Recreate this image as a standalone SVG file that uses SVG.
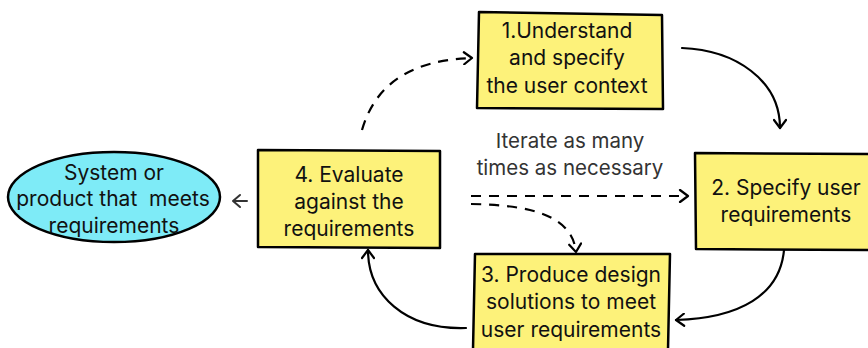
<svg xmlns="http://www.w3.org/2000/svg" width="868" height="348" viewBox="0 0 868 348">
  <defs>
    <marker id="chev" viewBox="0 0 12 14" refX="10" refY="7" markerWidth="12" markerHeight="14" markerUnits="userSpaceOnUse" orient="auto">
      <path d="M2,1 L10,7 L2,13" fill="none" stroke="#000" stroke-width="2.2" stroke-linecap="round" stroke-linejoin="round"/>
    </marker>
  </defs>
  <style>
    .box { fill: #fdf27a; stroke: #000; stroke-width: 2.5; stroke-linejoin: round; }
    .oval { fill: #7eebf7; stroke: #000; stroke-width: 2.5; }
    .lbl { font-family: Inter, "Noto Sans", sans-serif; font-size: 21px; fill: #111; text-anchor: middle; }
    .note { font-family: Inter, "Noto Sans", sans-serif; font-size: 20.5px; fill: #333; text-anchor: middle; }
    .solid { fill: none; stroke: #000; stroke-width: 2.2; stroke-linecap: round; marker-end: url(#chev); }
    .dash { fill: none; stroke: #000; stroke-width: 2.2; stroke-dasharray: 10 8; marker-end: url(#chev); }
  </style>

  <!-- step boxes -->
  <g id="understand">
    <path class="box" d="M479,12 L662,15 L663,109 L477,108 Z"/>
    <text class="lbl" x="567" y="38">1.Understand</text>
    <text class="lbl" x="567" y="65">and specify</text>
    <text class="lbl" x="567" y="93">the user context</text>
  </g>

  <g id="specify">
    <path class="box" d="M695,153 L870,154 L870,250 L696,249 Z"/>
    <text class="lbl" x="786" y="195">2. Specify user</text>
    <text class="lbl" x="786" y="222">requirements</text>
  </g>

  <g id="produce">
    <path class="box" d="M475,254 L670,254 L668,350 L473,350 Z"/>
    <text class="lbl" x="571" y="282">3. Produce design</text>
    <text class="lbl" x="571" y="309">solutions to meet</text>
    <text class="lbl" x="571" y="337">user requirements</text>
  </g>

  <g id="evaluate">
    <path class="box" d="M258,150 L440,151 L440,248 L258,247 Z"/>
    <text class="lbl" x="349" y="182">4. Evaluate</text>
    <text class="lbl" x="349" y="209">against the</text>
    <text class="lbl" x="349" y="236">requirements</text>
  </g>

  <g id="outcome">
    <ellipse class="oval" cx="114" cy="197" rx="106" ry="45"/>
    <text class="lbl" x="114" y="180">System or</text>
    <text class="lbl" x="113" y="206" xml:space="preserve">product that  meets</text>
    <text class="lbl" x="114" y="233">requirements</text>
  </g>

  <g id="iterate-note">
    <text class="note" x="570" y="148">Iterate as many</text>
    <text class="note" x="570" y="175">times as necessary</text>
  </g>

  <!-- connectors -->
  <g id="connectors">
    <path class="solid" d="M682,48 C735,50 780,80 780,128"/>
    <path class="solid" d="M784,250 C780,295 740,318 676,320"/>
    <path class="solid" d="M466,328 C405,330 368,295 368,250"/>
    <path d="M247,201 L233,201 M240,195 L233,201 L240,207" fill="none" stroke="#333" stroke-width="2" stroke-linecap="round" stroke-linejoin="round"/>
    <path class="dash" d="M362,130 C375,85 410,60 472,58"/>
    <path class="dash" d="M471,196 L688,196"/>
    <path class="dash" d="M471,204 C530,205 572,215 576,252"/>
  </g>
</svg>
